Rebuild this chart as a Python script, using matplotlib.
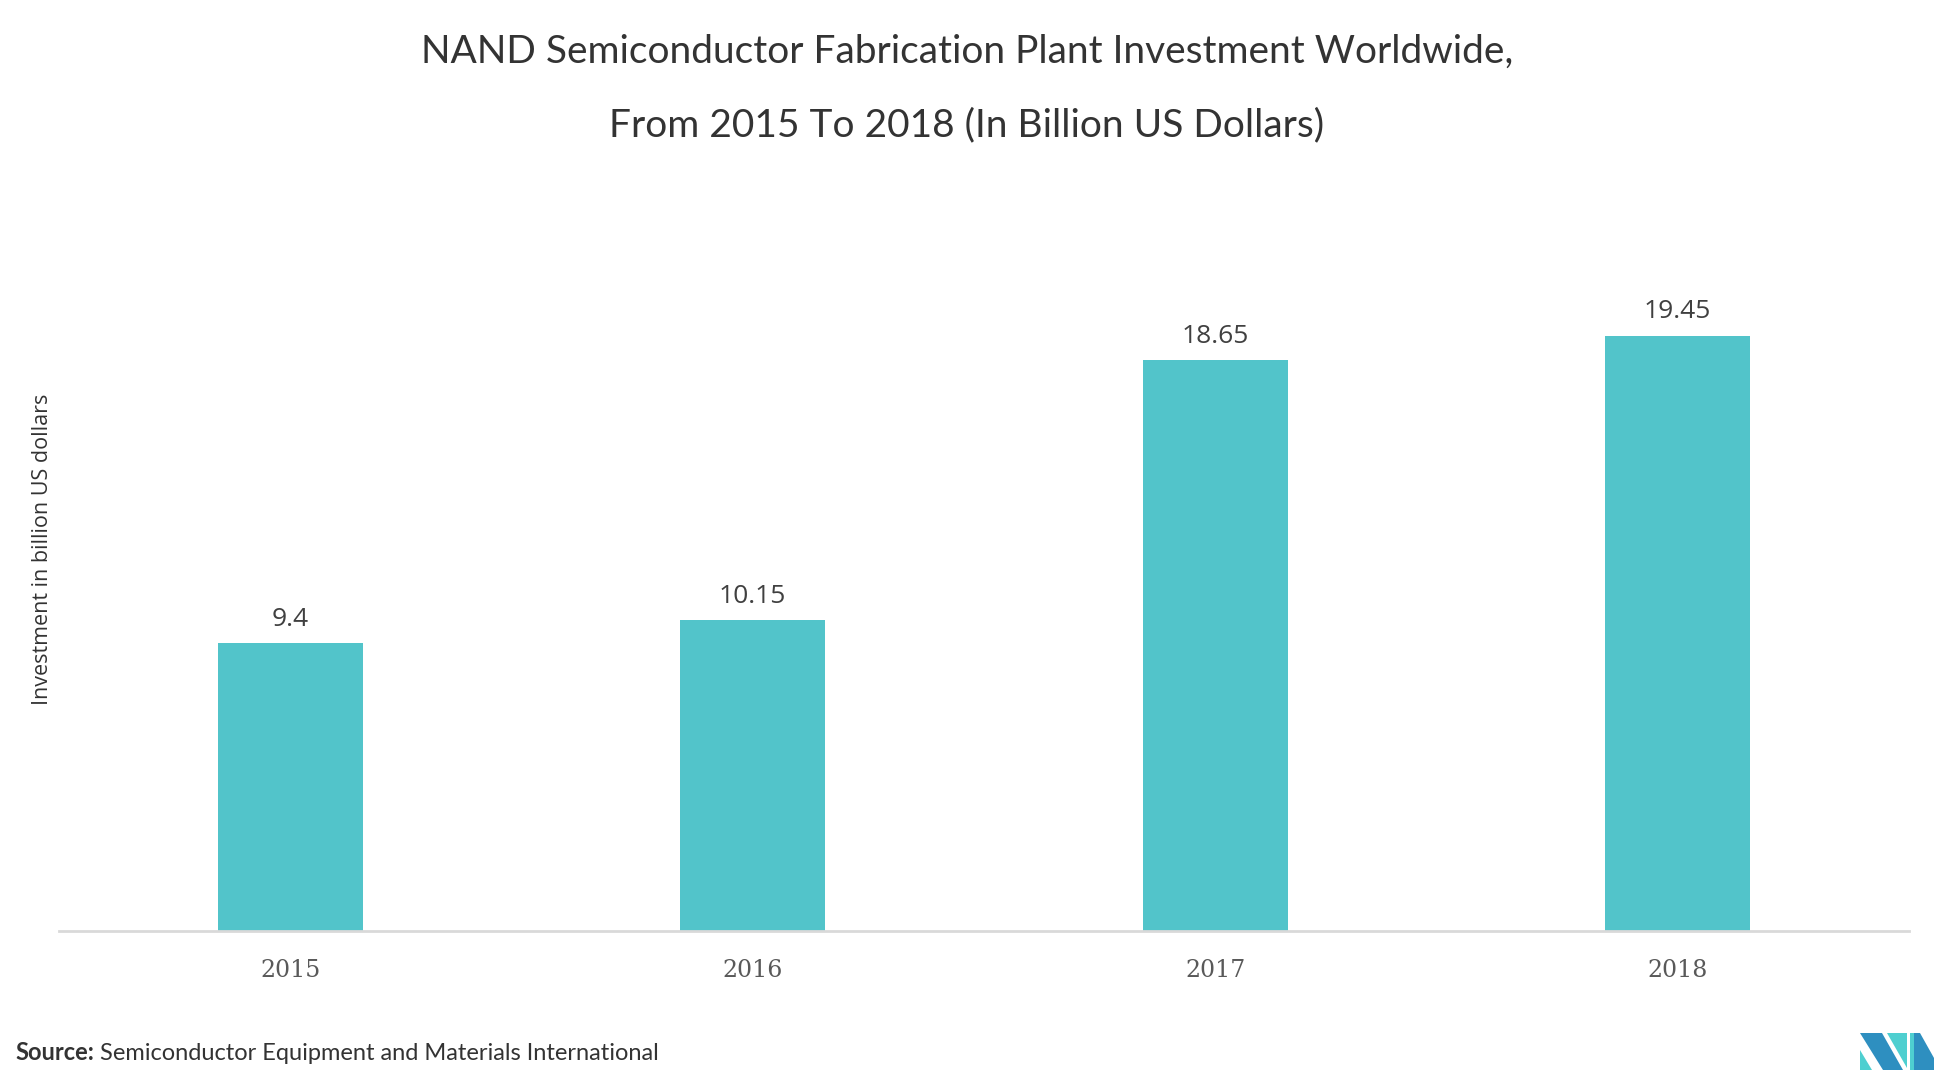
import matplotlib
matplotlib.use('Agg')
import matplotlib.pyplot as plt
from matplotlib.patches import Polygon

# datos del gráfico
years = ['2015', '2016', '2017', '2018']
investment = [9.4, 10.15, 18.65, 19.45]
value_labels = ['9.4', '10.15', '18.65', '19.45']

bar_color = '#52C4CA'

fig = plt.figure(figsize=(19.34, 10.84), dpi=100)
ax = fig.add_axes([0.0305, 0.1411, 0.9565, 0.621])

x = range(len(years))
ax.bar(x, investment, width=0.313, color=bar_color, zorder=2)

# etiquetas de valor sobre las barras
for xi, v, lab in zip(x, investment, value_labels):
    ax.annotate(lab, (xi, v), xytext=(0, 8.5), textcoords='offset points',
                ha='center', va='bottom', fontsize=19, color='#404040',
                family='Open Sans')

ax.set_xlim(-0.5, 3.5)
ax.set_ylim(0, 22)
ax.set_xticks(list(x))
ax.set_xticklabels(years, fontsize=17, color='#595959', family='DejaVu Serif')
ax.tick_params(axis='x', length=0, pad=20)
ax.set_yticks([])
for side in ['top', 'right', 'left']:
    ax.spines[side].set_visible(False)
ax.spines['bottom'].set_color('#d9d9d9')
ax.spines['bottom'].set_linewidth(2)

# título
fig.text(0.5, 1 - 52 / 1084, 'NAND Semiconductor Fabrication Plant Investment Worldwide,',
         ha='center', va='center', fontsize=28, color='#333333', family='Lato')
fig.text(0.5, 1 - 125 / 1084, 'From 2015 To 2018 (In Billion US Dollars)',
         ha='center', va='center', fontsize=28, color='#333333', family='Lato')

# etiqueta eje y
fig.text(43 / 1934, 1 - 549 / 1084, 'Investment in billion US dollars', rotation=90,
         ha='center', va='center', fontsize=15.5, color='#333333', family='Open Sans')

# fuente
src = fig.text(15 / 1934, 1 - 1053 / 1084, 'Source:', ha='left', va='center',
               fontsize=17, color='#333333', family='Lato', weight='bold')
fig.canvas.draw()
bb = src.get_window_extent()
fig.text(bb.x1 / 1934 + 0.003, 1 - 1053 / 1084, 'Semiconductor Equipment and Materials International',
         ha='left', va='center', fontsize=17, color='#333333', family='Lato')

# logo
def px(xp, yp):
    return (xp / 1934, 1 - yp / 1084)

dark = '#2E8FC0'
light = '#4ECFD0'
shapes = [
    ([(1860, 1033), (1882, 1033), (1903, 1070), (1883, 1070)], dark),
    ([(1860, 1050), (1860, 1070), (1872, 1070)], light),
    ([(1887, 1033), (1907, 1033), (1907, 1068)], light),
    ([(1910, 1033), (1914, 1033), (1914, 1070), (1910, 1070)], light),
    ([(1914, 1033), (1920, 1033), (1934, 1058), (1934, 1070), (1914, 1070)], dark),
]
for pts, col in shapes:
    fig.patches.append(Polygon([px(*p) for p in pts], closed=True, transform=fig.transFigure,
                               facecolor=col, edgecolor='none'))

plt.savefig('out.png', dpi=100)
plt.close()
